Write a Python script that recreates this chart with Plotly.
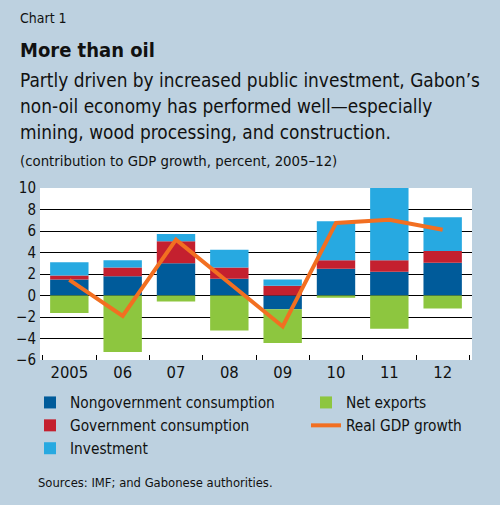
import plotly.graph_objects as go

# contribution to GDP growth, percent
years = ["2005", "06", "07", "08", "09", "10", "11", "12"]
nongov = [1.5, 1.8, 3.0, 1.55, -1.28, 2.5, 2.2, 3.05]
gov = [0.35, 0.8, 2.05, 1.05, 0.9, 0.78, 1.08, 1.08]
invest = [1.25, 0.68, 0.66, 1.65, 0.6, 3.62, 6.8, 3.15]
net_exports = [-1.62, -5.25, -0.56, -3.25, -3.15, -0.22, -3.1, -1.22]
real_gdp = [1.45, -1.9, 5.2, 1.2, -2.88, 6.75, 7.05, 6.12]

font_name = "DejaVu Sans Condensed, Liberation Sans Narrow, sans-serif"
bg = "#bdd1e0"

fig = go.Figure()
fig.add_trace(go.Bar(x=years, y=nongov, name="Nongovernment consumption",
                     marker=dict(color="#005b9a", line=dict(width=0)), legend="legend"))
fig.add_trace(go.Bar(x=years, y=net_exports, name="Net exports",
                     marker=dict(color="#8dc63f", line=dict(width=0)), legend="legend2"))
fig.add_trace(go.Bar(x=years, y=gov, name="Government consumption",
                     marker=dict(color="#c4202f", line=dict(width=0)), legend="legend"))
fig.add_trace(go.Bar(x=years, y=invest, name="Investment",
                     marker=dict(color="#27a9e1", line=dict(width=0)), legend="legend"))
fig.add_trace(go.Scatter(x=years, y=real_gdp, name="Real GDP growth", mode="lines",
                         line=dict(color="#f26f21", width=4), legend="legend2"))

# page texts, positions in paper units of the plot area (x 40..472, y 188..360 px)
def px(x):
    return (x - 40) / 432.0

def py(y):
    return (360 - y) / 172.0

texts = [
    ("Chart 1", 18, 18, 14),
    ("<b>More than oil</b>", 18, 50, 20),
    ("Partly driven by increased public investment, Gabon\u2019s", 18, 80, 18.9),
    ("non-oil economy has performed well\u2014especially", 18, 106, 18.9),
    ("mining, wood processing, and construction.", 18, 132, 18.9),
    ("(contribution to GDP growth, percent, 2005\u201312)", 18, 160, 14.8),
    ("Sources: IMF; and Gabonese authorities.", 36, 482, 12.9),
]
annotations = []
for t, x, y, s in texts:
    annotations.append(dict(text=t, x=px(x), y=py(y), xref="paper", yref="paper",
                            xanchor="left", yanchor="middle", showarrow=False,
                            font=dict(size=s, color="#111111", family=font_name)))

fig.update_layout(
    width=500, height=505,
    margin=dict(l=40, r=28, t=188, b=145),
    paper_bgcolor=bg, plot_bgcolor="white",
    barmode="relative", bargap=0.28,
    font=dict(family=font_name, color="#111111"),
    showlegend=True,
    legend=dict(x=px(30), y=py(386), xanchor="left", yanchor="top",
                bgcolor="rgba(0,0,0,0)", font=dict(size=15.3), tracegroupgap=0,
                itemwidth=30, traceorder="normal"),
    legend2=dict(x=px(306), y=py(386), xanchor="left", yanchor="top",
                 bgcolor="rgba(0,0,0,0)", font=dict(size=15.3), tracegroupgap=0,
                 itemwidth=30, traceorder="normal"),
    annotations=annotations,
    xaxis=dict(range=[-0.55, 7.55], tickson="boundaries", ticks="inside",
               ticklen=5, tickcolor="black", tickwidth=1, showgrid=False,
               tickfont=dict(size=16.5), showline=False, zeroline=False, fixedrange=True),
    yaxis=dict(range=[-6, 10], tickvals=list(range(-6, 11, 2)), showgrid=True,
               gridcolor="black", gridwidth=1, zeroline=True, zerolinecolor="black",
               zerolinewidth=1, ticks="", tickfont=dict(size=15), showline=False,
               ticklabelstandoff=3, fixedrange=True),
)

fig.write_html("out.html", config={"displayModeBar": False},
               post_script="document.body.style.margin='0';"
                           "document.body.style.background='" + bg + "';")
